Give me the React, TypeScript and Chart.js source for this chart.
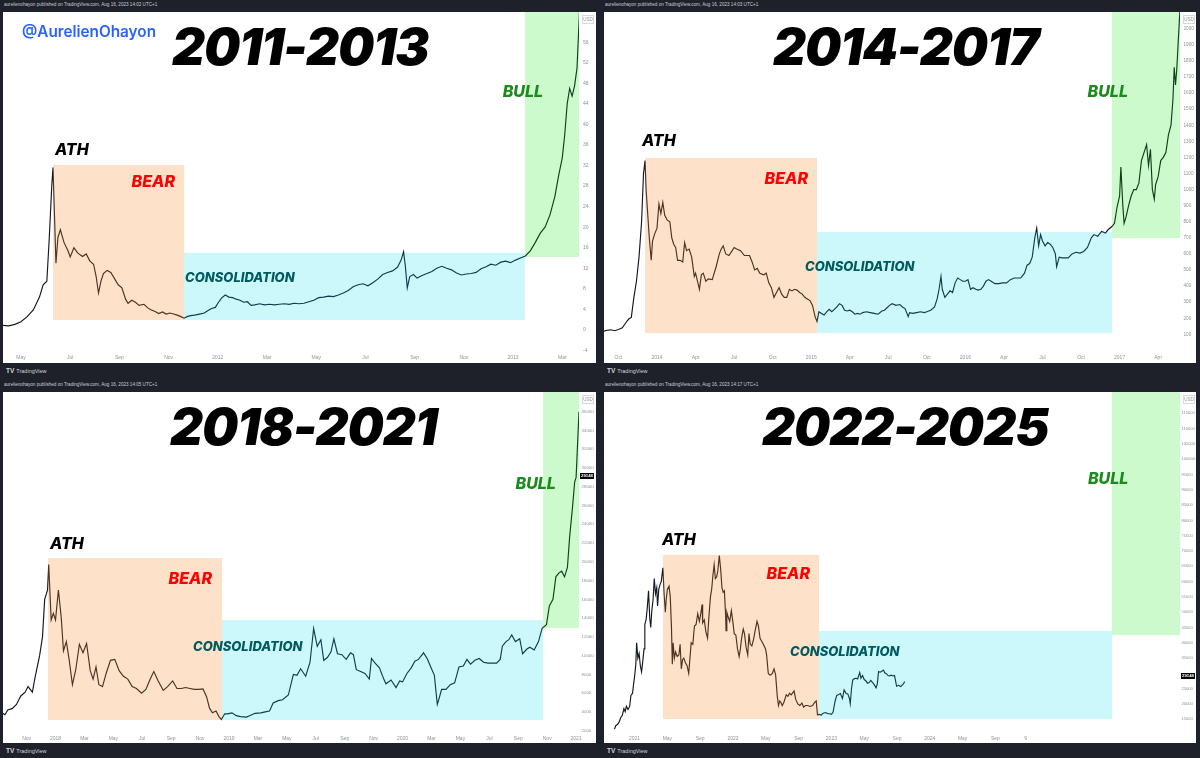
import React, { useEffect, useRef } from "react";
import { Chart, registerables } from "chart.js";
Chart.register(...registerables);

// ---------- DATA ----------
// time unit: months (panel 1: since Jan 2011, panel 2: since Jan 2014, panel 3: since Jan 2018, panel 4: since Jan 2022)
const p1Series: [number, number][] = [
  [3.27, 0.9], [3.5, 0.8], [3.75, 1.1], [4.0, 1.6], [4.25, 2.6], [4.5, 3.9], [4.75, 6.4], [4.9, 8.8], [5.05, 9.5],
  [5.15, 18], [5.25, 28], [5.3, 31.6], [5.35, 24], [5.42, 13], [5.5, 18], [5.6, 19.5], [5.75, 17], [5.9, 15.5],
  [6.0, 14.2], [6.15, 16], [6.3, 15], [6.5, 14.3], [6.65, 14.8], [6.8, 13.4], [6.95, 12.8], [7.05, 10.5], [7.15, 7.2],
  [7.25, 9.5], [7.35, 11], [7.5, 11.6], [7.65, 11.2], [7.8, 10], [7.95, 8.8], [8.1, 8.2], [8.25, 6.0], [8.35, 5.2],
  [8.5, 5.8], [8.65, 5.4], [8.8, 4.8], [9.0, 5.0], [9.15, 4.3], [9.3, 3.9], [9.45, 3.6], [9.6, 3.2], [9.75, 3.5],
  [9.9, 3.1], [10.05, 3.3], [10.2, 3.1], [10.35, 2.9], [10.5, 2.6], [10.63, 2.3], [10.75, 2.6], [10.9, 2.8], [11.05, 2.9],
  [11.25, 3.1], [11.45, 3.3], [11.6, 3.8], [11.75, 4.2], [11.9, 4.4], [12.0, 5.2], [12.15, 6.2], [12.3, 6.8], [12.45, 6.4],
  [12.6, 6.3], [12.75, 6.0], [12.9, 5.8], [13.05, 5.4], [13.2, 5.5], [13.35, 4.8], [13.5, 4.9], [13.7, 5.1], [13.9, 4.9],
  [14.1, 5.0], [14.3, 4.9], [14.5, 5.0], [14.7, 5.1], [14.9, 5.0], [15.1, 5.2], [15.3, 5.1], [15.5, 5.2], [15.7, 5.5],
  [15.9, 5.8], [16.1, 6.3], [16.3, 6.4], [16.5, 6.6], [16.7, 6.5], [16.9, 6.8], [17.1, 7.2], [17.3, 7.7], [17.5, 8.4],
  [17.7, 8.8], [17.9, 9.0], [18.1, 8.6], [18.3, 9.2], [18.5, 9.9], [18.7, 10.8], [18.9, 11.2], [19.1, 11.5], [19.3, 12.2],
  [19.45, 13.6], [19.55, 15.2], [19.62, 12.5], [19.7, 8.2], [19.8, 10.4], [19.95, 10.8], [20.1, 10.1], [20.3, 10.6],
  [20.5, 11.0], [20.7, 11.4], [20.9, 12.0], [21.1, 12.4], [21.3, 12.0], [21.5, 11.7], [21.7, 11.1], [21.9, 10.7],
  [22.1, 10.9], [22.3, 11.0], [22.5, 11.2], [22.7, 11.9], [22.9, 12.3], [23.1, 12.8], [23.3, 12.6], [23.5, 13.2],
  [23.7, 13.4], [23.9, 13.1], [24.1, 13.6], [24.3, 14.0], [24.5, 14.4], [24.7, 15.4], [24.9, 17.0], [25.1, 18.8],
  [25.3, 20.0], [25.5, 22.4], [25.7, 26.0], [25.85, 30.0], [26.0, 33.5], [26.1, 38], [26.2, 44], [26.3, 47],
  [26.4, 45.5], [26.5, 47.5], [26.6, 51], [26.7, 62],
];
const p1XTicks = [4, 6, 8, 10, 12, 14, 16, 18, 20, 22, 24, 26];
const p1XLabels = ["May", "Jul", "Sep", "Nov", "2012", "Mar", "May", "Jul", "Sep", "Nov", "2013", "Mar"];
const p1YTicks = [-4, 0, 4, 8, 12, 16, 20, 24, 28, 32, 36, 40, 44, 48, 52, 56];
// boxes: [startMonth, endMonth, lowPrice, highPrice]
const p1Bear = [5.3, 10.63, 1.95, 32.1];
const p1Cons = [10.63, 24.49, 1.95, 15.0];
const p1Bull = [24.49, null, 14.2, null];

const p2Series: [number, number][] = [
  [-4.12, 120], [-3.9, 125], [-3.6, 128], [-3.3, 122], [-3.0, 130], [-2.7, 140], [-2.4, 175], [-2.2, 195], [-2.0, 205],
  [-1.8, 330], [-1.6, 430], [-1.4, 580], [-1.2, 800], [-1.05, 1100], [-0.93, 1180], [-0.85, 1000], [-0.75, 880],
  [-0.6, 700], [-0.45, 560], [-0.35, 680], [-0.2, 720], [0.0, 760], [0.15, 910], [0.3, 850], [0.45, 920], [0.6, 840],
  [0.8, 810], [1.0, 800], [1.15, 700], [1.3, 660], [1.45, 640], [1.6, 560], [1.8, 560], [2.0, 550], [2.15, 670],
  [2.3, 620], [2.5, 630], [2.7, 580], [2.9, 460], [3.0, 480], [3.15, 430], [3.3, 380], [3.45, 470], [3.6, 480],
  [3.8, 430], [4.0, 445], [4.3, 440], [4.6, 520], [4.85, 600], [5.0, 630], [5.15, 650], [5.35, 600], [5.6, 590],
  [5.85, 620], [6.0, 640], [6.2, 630], [6.5, 620], [6.8, 590], [7.0, 590], [7.2, 590], [7.4, 550], [7.6, 500],
  [7.8, 510], [8.0, 480], [8.3, 470], [8.5, 480], [8.7, 420], [8.9, 390], [9.1, 330], [9.3, 360], [9.5, 390],
  [9.7, 350], [9.9, 330], [10.1, 330], [10.3, 380], [10.5, 370], [10.7, 380], [10.9, 375], [11.1, 360], [11.3, 350],
  [11.5, 330], [11.7, 320], [11.9, 310], [12.1, 280], [12.3, 210], [12.45, 180], [12.6, 240], [12.8, 230], [13.0, 220],
  [13.2, 240], [13.4, 255], [13.6, 240], [13.8, 255], [14.0, 270], [14.2, 290], [14.4, 280], [14.6, 250], [14.8, 245],
  [15.0, 250], [15.2, 240], [15.4, 225], [15.6, 230], [15.8, 225], [16.0, 235], [16.3, 240], [16.6, 235], [16.9, 230],
  [17.2, 225], [17.5, 245], [17.7, 250], [17.9, 265], [18.1, 280], [18.3, 290], [18.6, 280], [18.9, 285], [19.1, 270],
  [19.3, 260], [19.55, 210], [19.65, 235], [19.9, 230], [20.2, 235], [20.5, 240], [20.8, 235], [21.0, 240], [21.3, 250],
  [21.6, 270], [21.8, 320], [21.95, 380], [22.1, 460], [22.2, 380], [22.4, 330], [22.6, 350], [22.8, 370], [23.0, 360],
  [23.2, 420], [23.4, 450], [23.6, 440], [23.8, 430], [24.0, 430], [24.2, 440], [24.4, 380], [24.6, 390], [24.8, 380],
  [25.0, 375], [25.2, 380], [25.4, 400], [25.6, 430], [25.8, 440], [26.0, 430], [26.3, 415], [26.6, 415], [26.9, 420],
  [27.2, 420], [27.5, 440], [27.8, 450], [28.0, 450], [28.3, 450], [28.6, 480], [28.8, 530], [29.0, 540], [29.2, 580],
  [29.4, 700], [29.55, 760], [29.7, 650], [29.85, 720], [30.0, 680], [30.2, 650], [30.4, 670], [30.6, 660], [30.8, 640],
  [31.0, 600], [31.1, 520], [31.3, 580], [31.5, 575], [31.8, 575], [32.0, 575], [32.3, 600], [32.6, 610], [32.9, 605],
  [33.2, 615], [33.5, 640], [33.8, 700], [34.0, 720], [34.3, 710], [34.6, 740], [34.9, 730], [35.1, 750], [35.4, 770],
  [35.6, 790], [35.8, 890], [36.0, 960], [36.1, 1140], [36.25, 900], [36.35, 790], [36.5, 830], [36.7, 900], [36.9, 960],
  [37.1, 1000], [37.3, 1000], [37.5, 1040], [37.7, 1180], [37.9, 1230], [38.1, 1280], [38.25, 1150], [38.4, 1250],
  [38.55, 1000], [38.7, 940], [38.8, 1030], [39.0, 1080], [39.2, 1180], [39.4, 1200], [39.6, 1230], [39.8, 1340],
  [40.0, 1400], [40.15, 1560], [40.25, 1760], [40.35, 1650], [40.45, 1750], [40.55, 1900], [40.65, 2050], [40.75, 2200],
];
const p2XTicks = [-3, 0, 3, 6, 9, 12, 15, 18, 21, 24, 27, 30, 33, 36, 39];
const p2XLabels = ["Oct", "2014", "Apr", "Jul", "Oct", "2015", "Apr", "Jul", "Oct", "2016", "Apr", "Jul", "Oct", "2017", "Apr"];
const p2YTicks = [100, 200, 300, 400, 500, 600, 700, 800, 900, 1000, 1100, 1200, 1300, 1400, 1500, 1600, 1700, 1800, 1900, 2000];
const p2Bear = [-0.93, 12.45, 108, 1197];
const p2Cons = [12.45, 35.41, 108, 736];
const p2Bull = [35.41, null, 698, null];

const p3Series: [number, number][] = [
  [-3.7, 3900], [-3.5, 3700], [-3.3, 4200], [-3.0, 4350], [-2.7, 4800], [-2.4, 5700], [-2.1, 6100], [-1.9, 6700],
  [-1.6, 6100], [-1.4, 7800], [-1.1, 10000], [-0.9, 12000], [-0.75, 16000], [-0.55, 17000], [-0.47, 19700],
  [-0.3, 13800], [-0.15, 14500], [0.0, 13800], [0.2, 17000], [0.4, 14000], [0.55, 10500], [0.75, 11500], [0.95, 9500],
  [1.17, 6900], [1.4, 8500], [1.65, 11200], [1.9, 10300], [2.15, 11300], [2.4, 8400], [2.6, 7500], [2.8, 8800],
  [3.0, 6900], [3.25, 6700], [3.5, 8100], [3.8, 9500], [4.1, 9600], [4.4, 8400], [4.7, 7800], [5.0, 7500], [5.3, 6700],
  [5.6, 6500], [5.95, 6000], [6.25, 6400], [6.55, 7500], [6.8, 8300], [7.1, 7300], [7.45, 6300], [7.75, 6700],
  [8.1, 7300], [8.4, 6500], [8.7, 6500], [9.0, 6600], [9.3, 6500], [9.6, 6400], [9.9, 6400], [10.2, 6450], [10.45, 5600],
  [10.65, 4400], [10.85, 3900], [11.1, 4100], [11.3, 3500], [11.47, 3200], [11.7, 3800], [11.9, 3800], [12.2, 3900],
  [12.5, 3600], [12.8, 3500], [13.2, 3450], [13.5, 3650], [13.8, 3850], [14.2, 3900], [14.5, 4000], [14.8, 4100],
  [15.05, 4950], [15.4, 5200], [15.7, 5300], [16.1, 5800], [16.45, 8000], [16.7, 7900], [16.95, 8600], [17.3, 7800],
  [17.6, 9300], [17.85, 12900], [18.1, 11000], [18.35, 11700], [18.55, 9500], [18.8, 9800], [19.05, 10400],
  [19.25, 11800], [19.5, 10200], [19.8, 10100], [20.1, 9600], [20.4, 10300], [20.6, 10100], [20.8, 8500], [21.1, 8300],
  [21.4, 8100], [21.7, 7500], [21.85, 9700], [22.1, 9200], [22.4, 8700], [22.7, 7500], [22.85, 7000], [23.2, 7400],
  [23.55, 6600], [23.8, 7300], [24.0, 7200], [24.3, 8100], [24.6, 8700], [24.85, 9400], [25.1, 9600], [25.45, 10300],
  [25.7, 9700], [26.0, 8600], [26.2, 7900], [26.4, 4800], [26.5, 5300], [26.7, 6400], [27.0, 6400], [27.3, 6900],
  [27.6, 7100], [27.9, 8800], [28.2, 8900], [28.45, 9600], [28.7, 9100], [29.0, 9500], [29.3, 9700], [29.6, 9300],
  [29.9, 9200], [30.2, 9200], [30.5, 9200], [30.75, 9600], [30.9, 11000], [31.15, 11500], [31.35, 11700], [31.55, 12200],
  [31.8, 11500], [32.1, 11800], [32.3, 10200], [32.6, 10700], [32.8, 10900], [33.1, 10600], [33.4, 11500], [33.65, 12900],
  [33.95, 13300], [34.15, 15300], [34.4, 16000], [34.6, 18400], [34.8, 18800], [35.0, 19000], [35.2, 18400],
  [35.4, 19400], [35.55, 22600], [35.75, 25800], [35.9, 28500], [36.0, 29000], [36.1, 32500], [36.2, 36000], [36.3, 40000],
];
const p3XTicks = [-2, 0, 2, 4, 6, 8, 10, 12, 14, 16, 18, 20, 22, 24, 26, 28, 30, 32, 34, 36];
const p3XLabels = ["Nov", "2018", "Mar", "May", "Jul", "Sep", "Nov", "2019", "Mar", "May", "Jul", "Sep", "Nov", "2020", "Mar", "May", "Jul", "Sep", "Nov", "2021"];
const p3YTicks = [2000, 4000, 6000, 8000, 10000, 12000, 14000, 16000, 18000, 20000, 22000, 24000, 26000, 28000, 30000, 32000, 34000, 36000];
const p3Bear = [-0.52, 11.52, 3140, 20400];
const p3Cons = [11.52, 33.72, 3140, 13800];
const p3Bull = [33.72, null, 12950, null];

const p4Series: [number, number][] = [
  [-14.45, 11800], [-14.3, 12900], [-14.1, 13300], [-13.9, 14000], [-13.7, 15500], [-13.5, 16300], [-13.3, 18500],
  [-13.15, 17500], [-13.0, 19300], [-12.8, 18200], [-12.6, 19200], [-12.45, 22800], [-12.25, 23500], [-12.1, 27000],
  [-12.0, 29000], [-11.85, 33000], [-11.75, 40000], [-11.6, 35000], [-11.45, 36500], [-11.3, 32500], [-11.15, 30500],
  [-11.0, 34000], [-10.85, 38000], [-10.75, 46000], [-10.6, 47500], [-10.45, 51500], [-10.3, 57000], [-10.15, 48000],
  [-10.03, 45000], [-9.9, 50500], [-9.75, 54000], [-9.6, 61000], [-9.45, 56000], [-9.3, 58000], [-9.2, 52000],
  [-9.05, 57500], [-8.9, 59000], [-8.75, 60000], [-8.55, 64500], [-8.4, 56000], [-8.25, 50000], [-8.15, 54000],
  [-8.0, 57500], [-7.8, 58500], [-7.65, 55000], [-7.5, 45000], [-7.4, 33000], [-7.3, 40000], [-7.15, 35000],
  [-7.0, 37000], [-6.8, 35500], [-6.6, 36000], [-6.45, 39500], [-6.3, 31500], [-6.15, 34500], [-6.0, 35000],
  [-5.8, 33500], [-5.6, 32500], [-5.4, 30000], [-5.25, 35000], [-5.1, 40000], [-4.9, 39500], [-4.7, 45500],
  [-4.5, 46000], [-4.3, 49500], [-4.1, 47000], [-3.9, 50000], [-3.77, 52500], [-3.7, 46500], [-3.5, 47500],
  [-3.3, 43500], [-3.1, 41500], [-2.95, 48000], [-2.75, 55000], [-2.6, 57500], [-2.45, 62000], [-2.3, 65500],
  [-2.15, 61000], [-2.0, 61500], [-1.85, 63500], [-1.67, 68500], [-1.5, 64000], [-1.35, 58000], [-1.2, 56500],
  [-1.05, 57000], [-0.9, 49000], [-0.85, 44000], [-0.75, 50000], [-0.6, 48500], [-0.4, 47000], [-0.2, 50500],
  [0.0, 46500], [0.15, 43000], [0.35, 42500], [0.55, 38000], [0.75, 35500], [0.9, 38000], [1.05, 41500], [1.25, 44500],
  [1.4, 43000], [1.6, 38500], [1.8, 36000], [1.95, 43000], [2.1, 39500], [2.3, 39000], [2.5, 41000], [2.7, 44000],
  [2.93, 47000], [3.1, 45500], [3.3, 41500], [3.5, 40500], [3.7, 39500], [3.97, 38000], [4.1, 36000], [4.3, 30000],
  [4.45, 29500], [4.6, 29500], [4.8, 30000], [5.0, 31500], [5.2, 29500], [5.4, 22500], [5.55, 19500], [5.7, 21000],
  [5.85, 20500], [6.0, 19500], [6.2, 20500], [6.5, 23000], [6.7, 22500], [6.9, 23500], [7.1, 23000], [7.45, 24300],
  [7.65, 21500], [7.9, 20000], [8.15, 19500], [8.4, 20300], [8.6, 19000], [8.85, 19500], [9.1, 19500], [9.4, 19200],
  [9.7, 19500], [9.95, 20500], [10.15, 21000], [10.3, 16500], [10.5, 16600], [10.75, 16400], [11.0, 17000],
  [11.3, 17200], [11.55, 16800], [11.8, 16800], [12.0, 16600], [12.2, 17300], [12.45, 20900], [12.65, 22800],
  [12.9, 23100], [13.1, 23400], [13.35, 21800], [13.55, 24600], [13.8, 23400], [14.0, 23300], [14.2, 21800],
  [14.3, 20100], [14.45, 25000], [14.6, 27800], [14.8, 28300], [15.0, 28400], [15.2, 28200], [15.45, 30300],
  [15.6, 28400], [15.8, 29300], [16.0, 28000], [16.2, 27600], [16.4, 26800], [16.6, 27000], [16.8, 27700],
  [17.0, 27100], [17.2, 26400], [17.45, 25300], [17.6, 26600], [17.75, 30600], [17.95, 30400], [18.1, 30600],
  [18.35, 31100], [18.5, 30200], [18.7, 29900], [18.9, 29300], [19.1, 29200], [19.3, 29400], [19.5, 29148],
  [19.7, 29300], [19.95, 25800], [20.2, 26100], [20.45, 25700], [20.7, 26300], [20.95, 27300],
];
const p4XTicks = [-12, -8, -4, 0, 4, 8, 12, 16, 20, 24, 28, 32, 35.7];
const p4XLabels = ["2021", "May", "Sep", "2022", "May", "Sep", "2023", "May", "Sep", "2024", "May", "Sep", "9"];
const p4YTicks = [15000, 20000, 25000, 35000, 40000, 45000, 50000, 55000, 60000, 65000, 70000, 75000, 80000, 85000, 90000, 95000, 100000, 105000, 110000, 115000];
const p4Bear = [-8.54, 10.49, 15100, 68700];
const p4Cons = [10.49, 46.22, 15100, 43900];
const p4Bull = [46.22, null, 42500, null];

const lastPrice = 29148;

// ---------- STYLE ----------
const BG = "#1e2129";
const PEACH = "rgba(247,135,35,0.25)";
const CYAN = "rgba(0,220,240,0.2)";
const GREEN = "rgba(0,230,0,0.2)";
const C_ATH = "#000000";
const C_BEAR = "#ff0000";
const C_CONS = "#005a5e";
const C_BULL = "#1a8c1a";
const TICK_COLOR = "#8f929b";

type Lbl = { text: string; t: number; p: number; color: string; align: CanvasTextAlign; size: number };

type Cfg = {
  series: [number, number][];
  xTicks: number[]; xLabels: string[]; yTicks: number[];
  xMin: number; xMax: number; yMin: number; yMax: number;
  boxes: { b: (number | null)[]; color: string }[];
  labels: Lbl[];
  w: number; h: number; axisW: number; xAxisH: number;
  tag: boolean; yFont: number; yPad: number;
};

const panels: { cfg: Cfg; left: number; top: number; title: string; titleLeft: number; header: string }[] = [
  {
    left: 3, top: 12, title: "2011-2013", titleLeft: 172, header: "aurelienohayon published on TradingView.com, Aug 16, 2023 14:02 UTC+1",
    cfg: {
      series: p1Series, xTicks: p1XTicks, xLabels: p1XLabels, yTicks: p1YTicks,
      xMin: 3.268, xMax: 26.68, yMin: -4.28, yMax: 61.87,
      boxes: [{ b: p1Bear, color: PEACH }, { b: p1Cons, color: CYAN }, { b: p1Bull, color: GREEN }],
      labels: [
        { text: "ATH", t: 5.38, p: 34.0, color: C_ATH, align: "left", size: 16 },
        { text: "BEAR", t: 10.26, p: 27.8, color: C_BEAR, align: "right", size: 16 },
        { text: "CONSOLIDATION", t: 10.67, p: 9.34, color: C_CONS, align: "left", size: 13 },
        { text: "BULL", t: 25.22, p: 45.3, color: C_BULL, align: "right", size: 16 },
      ],
      w: 593, h: 351, axisW: 17, xAxisH: 11, tag: false, yFont: 5, yPad: 4,
    },
  },
  {
    left: 604, top: 12, title: "2014-2017", titleLeft: 773, header: "aurelienohayon published on TradingView.com, Aug 16, 2023 14:03 UTC+1",
    cfg: {
      series: p2Series, xTicks: p2XTicks, xLabels: p2XLabels, yTicks: p2YTicks,
      xMin: -4.125, xMax: 40.7, yMin: -10, yMax: 2104,
      boxes: [{ b: p2Bear, color: PEACH }, { b: p2Cons, color: CYAN }, { b: p2Bull, color: GREEN }],
      labels: [
        { text: "ATH", t: -1.17, p: 1271, color: C_ATH, align: "left", size: 16 },
        { text: "BEAR", t: 11.75, p: 1035, color: C_BEAR, align: "right", size: 16 },
        { text: "CONSOLIDATION", t: 11.52, p: 494, color: C_CONS, align: "left", size: 13 },
        { text: "BULL", t: 36.65, p: 1576, color: C_BULL, align: "right", size: 16 },
      ],
      w: 592, h: 351, axisW: 16, xAxisH: 11, tag: false, yFont: 4.7, yPad: 3.5,
    },
  },
  {
    left: 3, top: 392, title: "2018-2021", titleLeft: 170, header: "aurelienohayon published on TradingView.com, Aug 16, 2023 14:05 UTC+1",
    cfg: {
      series: p3Series, xTicks: p3XTicks, xLabels: p3XLabels, yTicks: p3YTicks,
      xMin: -3.631, xMax: 36.2, yMin: 1754, yMax: 38100,
      boxes: [{ b: p3Bear, color: PEACH }, { b: p3Cons, color: CYAN }, { b: p3Bull, color: GREEN }],
      labels: [
        { text: "ATH", t: -0.38, p: 21370, color: C_ATH, align: "left", size: 16 },
        { text: "BEAR", t: 10.82, p: 17640, color: C_BEAR, align: "right", size: 16 },
        { text: "CONSOLIDATION", t: 9.51, p: 10500, color: C_CONS, align: "left", size: 13 },
        { text: "BULL", t: 34.6, p: 27760, color: C_BULL, align: "right", size: 16 },
      ],
      w: 593, h: 351, axisW: 17, xAxisH: 10, tag: true, yFont: 4.4, yPad: 2.5,
    },
  },
  {
    left: 604, top: 392, title: "2022-2025", titleLeft: 762, header: "aurelienohayon published on TradingView.com, Aug 16, 2023 14:17 UTC+1",
    cfg: {
      series: p4Series, xTicks: p4XTicks, xLabels: p4XLabels, yTicks: p4YTicks,
      xMin: -15.73, xMax: 54.51, yMin: 10522, yMax: 121960,
      boxes: [{ b: p4Bear, color: PEACH }, { b: p4Cons, color: CYAN }, { b: p4Bull, color: GREEN }],
      labels: [
        { text: "ATH", t: -8.66, p: 71960, color: C_ATH, align: "left", size: 16 },
        { text: "BEAR", t: 9.39, p: 60850, color: C_BEAR, align: "right", size: 16 },
        { text: "CONSOLIDATION", t: 6.95, p: 35690, color: C_CONS, align: "left", size: 13 },
        { text: "BULL", t: 48.2, p: 91900, color: C_BULL, align: "right", size: 16 },
      ],
      w: 592, h: 351, axisW: 16, xAxisH: 10, tag: true, yFont: 4.1, yPad: 1.5,
    },
  },
];

function makeOverlay(cfg: Cfg) {
  return {
    id: "overlay",
    afterDatasetsDraw(chart: any) {
      const { ctx, chartArea: a, scales } = chart;
      const xs = scales.x, ys = scales.y;
      ctx.save();
      ctx.beginPath();
      ctx.rect(a.left, a.top, a.right - a.left, a.bottom - a.top);
      ctx.clip();
      cfg.boxes.forEach(({ b, color }) => {
        const x0 = xs.getPixelForValue(b[0] as number);
        const x1 = b[1] == null ? a.right : xs.getPixelForValue(b[1] as number);
        const yb = ys.getPixelForValue(b[2] as number);
        const yt = b[3] == null ? a.top : ys.getPixelForValue(b[3] as number);
        ctx.fillStyle = color;
        ctx.fillRect(x0, yt, x1 - x0, yb - yt);
      });
      cfg.labels.forEach((l) => {
        ctx.font = `italic 800 ${l.size}px Inter, "Liberation Sans", sans-serif`;
        ctx.fillStyle = l.color;
        ctx.textAlign = l.align;
        ctx.textBaseline = "alphabetic";
        ctx.fillText(l.text, xs.getPixelForValue(l.t), ys.getPixelForValue(l.p));
      });
      ctx.restore();
    },
    afterDraw(chart: any) {
      const { ctx, chartArea: a, scales } = chart;
      const ys = scales.y;
      ctx.save();
      // USD box
      ctx.strokeStyle = "#d6d8de";
      ctx.lineWidth = 1;
      ctx.strokeRect(a.right + 3.5, 3.5, 11, 8);
      ctx.fillStyle = "#8f929b";
      ctx.font = '4.5px "Liberation Sans", sans-serif';
      ctx.textAlign = "center";
      ctx.textBaseline = "middle";
      ctx.fillText("USD", a.right + 9, 7.8);
      if (cfg.tag) {
        const yy = ys.getPixelForValue(lastPrice);
        ctx.fillStyle = "#000000";
        ctx.fillRect(a.right + 1, yy - 3, 14, 6);
        ctx.fillStyle = "#ffffff";
        ctx.font = 'bold 4.3px "Liberation Sans", sans-serif';
        ctx.fillText(String(lastPrice), a.right + 8, yy + 0.3);
      }
      ctx.restore();
    },
  };
}

function zeroPad(s: any) {
  s.paddingTop = 0;
  s.paddingBottom = 0;
  s.paddingLeft = 0;
  s.paddingRight = 0;
}

function Panel({ cfg }: { cfg: Cfg }) {
  const ref = useRef<HTMLCanvasElement>(null);
  useEffect(() => {
    const chart = new Chart(ref.current as HTMLCanvasElement, {
      type: "line",
      data: {
        datasets: [
          {
            data: cfg.series.map(([t, v]) => ({ x: t, y: v })),
            borderColor: "#131722",
            borderWidth: 1.15,
            pointRadius: 0,
            tension: 0,
            fill: false,
          },
        ],
      },
      options: {
        animation: false,
        responsive: false,
        devicePixelRatio: 1,
        layout: { padding: 0 },
        plugins: { legend: { display: false }, tooltip: { enabled: false } },
        scales: {
          x: {
            type: "linear",
            min: cfg.xMin,
            max: cfg.xMax,
            grid: { display: false, drawTicks: false },
            border: { display: false },
            afterBuildTicks: (s: any) => { s.ticks = cfg.xTicks.map((v) => ({ value: v })); },
            afterFit: (s: any) => { s.height = cfg.xAxisH; zeroPad(s); },
            ticks: {
              autoSkip: false, maxRotation: 0, minRotation: 0, padding: 3,
              color: TICK_COLOR, font: { size: 5, family: '"Liberation Sans", sans-serif' },
              callback: (_v: any, i: number) => cfg.xLabels[i],
            },
          },
          y: {
            type: "linear",
            position: "right",
            min: cfg.yMin,
            max: cfg.yMax,
            grid: { display: false, drawTicks: false },
            border: { display: false },
            afterBuildTicks: (s: any) => { s.ticks = cfg.yTicks.map((v) => ({ value: v })); },
            afterFit: (s: any) => { s.width = cfg.axisW; zeroPad(s); },
            ticks: {
              padding: cfg.yPad, color: TICK_COLOR, font: { size: cfg.yFont, family: '"Liberation Sans", sans-serif' },
              callback: (v: any) => String(v),
            },
          },
        },
      } as any,
      plugins: [makeOverlay(cfg)],
    });
    return () => chart.destroy();
  }, []);
  return <canvas ref={ref} width={cfg.w} height={cfg.h} style={{ display: "block", width: cfg.w, height: cfg.h }} />;
}

export default function App() {
  return (
    <div style={{ position: "fixed", left: 0, top: 0, width: 1200, height: 758, background: BG, overflow: "hidden", fontFamily: "Inter, sans-serif" }}>
      {panels.map((p, i) => (
        <React.Fragment key={i}>
          <div style={{ position: "absolute", left: p.left + 1, top: p.top - 10, fontSize: 4.6, color: "#c9ccd4", fontFamily: '"Liberation Sans", sans-serif', whiteSpace: "nowrap", lineHeight: "6px" }}>
            {p.header}
          </div>
          <div style={{ position: "absolute", left: p.left, top: p.top, width: p.cfg.w, height: p.cfg.h, background: "#ffffff" }}>
            <Panel cfg={p.cfg} />
          </div>
          <div style={{ position: "absolute", left: p.left + 3, top: p.top + p.cfg.h + 4, fontSize: 5.5, color: "#d1d4dc", fontFamily: '"Liberation Sans", sans-serif', whiteSpace: "nowrap", lineHeight: "8px" }}>
            <span style={{ fontWeight: 900, fontSize: 6.5, marginRight: 2 }}>TV</span>TradingView
          </div>
          <div style={{ position: "absolute", left: p.titleLeft, top: p.top + 9, fontSize: 51, lineHeight: 1, fontWeight: 900, fontStyle: "italic", color: "#000", whiteSpace: "nowrap", letterSpacing: -1 }}>
            {p.title}
          </div>
        </React.Fragment>
      ))}
      <div style={{ position: "absolute", left: 22, top: 24, fontSize: 15.3, lineHeight: 1, fontWeight: 600, color: "#2962ff", whiteSpace: "nowrap" }}>
        @AurelienOhayon
      </div>
    </div>
  );
}
